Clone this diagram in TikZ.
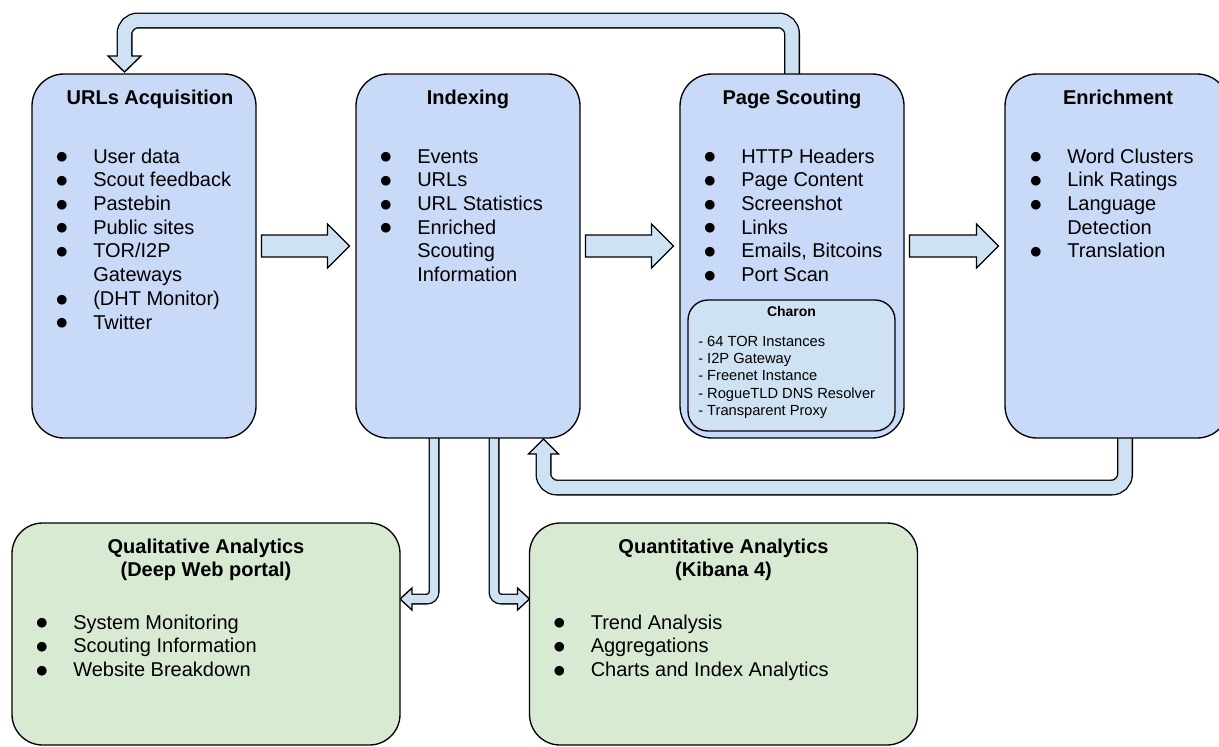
\documentclass[tikz,border=0pt]{standalone}
\usepackage{fontspec}
\setmainfont{Liberation Sans}
\newfontfamily\symfont{DejaVu Sans}
\usetikzlibrary{calc}
\pgfdeclarelayer{background}
\pgfsetlayers{background,main}
\definecolor{boxblue}{HTML}{C9DAF8}
\definecolor{lightblue}{HTML}{CFE2F3}
\definecolor{boxgreen}{HTML}{D9EAD3}
\newcommand\bul{\makebox[27.75pt][l]{\raisebox{1.8pt}{\symfont\fontsize{9.5}{9.5}\selectfont ●}}}
\newcommand\ind{\hspace*{27.75pt}}
\begin{document}
\begin{tikzpicture}[x=0.75pt,y=-0.75pt,
 box/.style={draw=black, line width=1pt, inner sep=0pt, outer sep=0pt},
 stage/.style={box, fill=boxblue, rounded corners=24pt, minimum width=168pt, minimum height=273pt},
 outlet/.style={box, fill=boxgreen, rounded corners=23pt, minimum width=291pt, minimum height=166.5pt},
 proxybox/.style={box, fill=lightblue, rounded corners=15pt, minimum width=155.25pt, minimum height=98.25pt},
 title/.style={anchor=base, inner sep=0pt, font=\bfseries\fontsize{15}{17.8}\selectfont},
 items/.style={anchor=base west, inner sep=0pt, font=\fontsize{15}{17.8}\selectfont},
 smalltitle/.style={anchor=base, inner sep=0pt, font=\bfseries\fontsize{10.5}{13}\selectfont},
 smallitems/.style={anchor=base west, inner sep=0pt, font=\fontsize{11}{13}\selectfont},
 harrow/.style={draw=black, line width=1pt, fill=lightblue, line join=miter},
 fatout/.style={draw=black, line width=12pt, rounded corners=10pt},
 fatin/.style={draw=lightblue, line width=10pt, rounded corners=10pt},
 thinout/.style={draw=black, line width=8.25pt, rounded corners=5.25pt},
 thinin/.style={draw=lightblue, line width=6.25pt, rounded corners=5.25pt},
 head/.style={draw=black, line width=1pt, fill=lightblue, line join=miter},
]
\useasboundingbox (0,0) rectangle (1219,746);

% stages
\node[stage] (urls) at (144,256) {};
\node[stage] (idx)  at (468,256) {};
\node[stage] (ps)   at (792,256) {};
\node[stage] (enr)  at (1117,256) {};
\node[proxybox] (charon) at (791.5,365.5) {};
\node[outlet] (qual)  at (206,634) {};
\node[outlet] (quant) at (723.5,634) {};

% titles
\node[title] (urlsT) at ($(urls.north)+(6,30)$) {URLs Acquisition};
\node[title] (idxT) at ($(idx.north)+(0,30)$) {Indexing};
\node[title] (psT) at ($(ps.north)+(0,30)$) {Page Scouting};
\node[title] (enrT) at ($(enr.north)+(1,30)$) {Enrichment};
\node[title] (qualT) at ($(qual.north)+(0,30)$) {\begin{tabular}[t]{@{}c@{}}Qualitative Analytics\\(Deep Web portal)\end{tabular}};
\node[title] (quantT) at ($(quant.north)+(0,30)$) {\begin{tabular}[t]{@{}c@{}}Quantitative Analytics\\(Kibana 4)\end{tabular}};
\node[smalltitle] (charonT) at ($(charon.north)+(0,16)$) {Charon};

% item lists
\node[items] (urlsL) at ($(urls.north west)+(24,89)$) {\begin{tabular}[t]{@{}l@{}}
\bul User data\\ \bul Scout feedback\\ \bul Pastebin\\ \bul Public sites\\
\bul TOR/I2P\\ \ind Gateways\\ \bul (DHT Monitor)\\ \bul Twitter\end{tabular}};
\node[items] (idxL) at ($(idx.north west)+(24,89)$) {\begin{tabular}[t]{@{}l@{}}
\bul Events\\ \bul URLs\\ \bul URL Statistics\\ \bul Enriched\\ \ind Scouting\\ \ind Information\end{tabular}};
\node[items] (psL) at ($(ps.north west)+(24,89)$) {\begin{tabular}[t]{@{}l@{}}
\bul HTTP Headers\\ \bul Page Content\\ \bul Screenshot\\ \bul Links\\ \bul Emails, Bitcoins\\ \bul Port Scan\end{tabular}};
\node[items] (enrL) at ($(enr.north west)+(25,89)$) {\begin{tabular}[t]{@{}l@{}}
\bul Word Clusters\\ \bul Link Ratings\\ \bul Language\\ \ind Detection\\ \bul Translation\end{tabular}};
\node[items] (qualL) at ($(qual.north west)+(24,106)$) {\begin{tabular}[t]{@{}l@{}}
\bul System Monitoring\\ \bul Scouting Information\\ \bul Website Breakdown\end{tabular}};
\node[items] (quantL) at ($(quant.north west)+(24,106)$) {\begin{tabular}[t]{@{}l@{}}
\bul Trend Analysis\\ \bul Aggregations\\ \bul Charts and Index Analytics\end{tabular}};
\node[smallitems] (charonL) at ($(charon.north west)+(10,46)$) {\begin{tabular}[t]{@{}l@{}}
- 64 TOR Instances\\ - I2P Gateway\\ - Freenet Instance\\ - RogueTLD DNS Resolver\\ - Transparent Proxy\end{tabular}};

\begin{pgfonlayer}{background}
% straight block arrows between stages
\foreach \a/\b in {urls/idx, idx/ps, ps/enr} {
  \coordinate (s) at ($(\a.east)+(5.5,-10)$);
  \coordinate (t) at ($(\b.west)+(-6.5,-10)$);
  \draw[harrow] ($(s)+(0,-11)$) -- ($(t)+(-22,-11)$) -- ($(t)+(-22,-22)$) -- (t)
     -- ($(t)+(-22,22)$) -- ($(t)+(-22,11)$) -- ($(s)+(0,11)$) -- cycle;
}
% feedback: Page Scouting -> URLs Acquisition
\coordinate (a1) at ($(urls.north)+(-19.5,-2)$);
\draw[fatout] (ps.north) |- ($(a1)+(0,-51.5)$) -- ($(a1)+(0,-16)$);
\draw[head] (a1) -- ($(a1)+(-16.5,-16)$) -- ($(a1)+(16.5,-16)$) -- cycle;
\draw[fatin] (ps.north) |- ($(a1)+(0,-51.5)$) -- ($(a1)+(0,-14.5)$);
% feedback: Enrichment -> Indexing
\coordinate (a2) at ($(idx.south)+(75.5,1)$);
\draw[fatout] ($(enr.south)+(8,0)$) |- ($(a2)+(0,48.5)$) -- ($(a2)+(0,15)$);
\draw[head] (a2) -- ($(a2)+(-15,15)$) -- ($(a2)+(15,15)$) -- cycle;
\draw[fatin] ($(enr.south)+(8,0)$) |- ($(a2)+(0,48.5)$) -- ($(a2)+(0,13.5)$);
% Indexing -> Qualitative Analytics
\coordinate (a3) at ($(qual.east)+(0,-35)$);
\draw[thinout] ($(idx.south)+(-34,0)$) |- ($(a3)+(12,0)$);
\draw[head] (a3) -- ($(a3)+(12,-11)$) -- ($(a3)+(12,11)$) -- cycle;
\draw[thinin] ($(idx.south)+(-34,0)$) |- ($(a3)+(10.5,0)$);
% Indexing -> Quantitative Analytics
\coordinate (a4) at ($(quant.west)+(0,-35)$);
\draw[thinout] ($(idx.south)+(26,0)$) |- ($(a4)+(-12,0)$);
\draw[head] (a4) -- ($(a4)+(-12,-11)$) -- ($(a4)+(-12,11)$) -- cycle;
\draw[thinin] ($(idx.south)+(26,0)$) |- ($(a4)+(-10.5,0)$);
\end{pgfonlayer}
\end{tikzpicture}
\end{document}
